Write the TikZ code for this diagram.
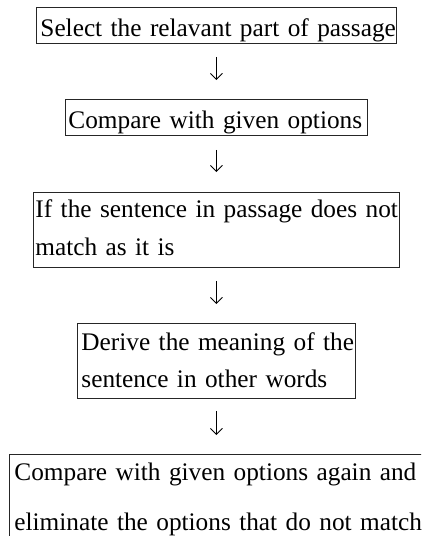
\documentclass[tikz,border=0pt]{standalone}
\usepackage{fontspec}
\setmainfont{Liberation Serif}[WordSpace=0.72]
\usetikzlibrary{arrows.meta}
\begin{document}
\begin{tikzpicture}[x=1pt,y=-1pt,
  box/.style={draw=black!85, line width=0.9pt, anchor=north west, inner ysep=0pt, align=left},
  flow/.style={-{Straight Barb[length=6pt,width=12pt,line width=0.9pt]}, line width=0.8pt, shorten <=13pt, shorten >=19pt}]
\useasboundingbox (0,0) rectangle (421,536);
\clip (0,0) rectangle (421,536);
\node[box, inner xsep=4pt, text width=352pt, text height=29.5pt, text depth=6.5pt,
      font=\fontsize{25.3}{37}\selectfont] (b1) at (36,7)
  {\mbox{Select the relavant part of passage}};
\node[box, inner xsep=3pt, text width=296pt, text height=29.5pt, text depth=6.5pt,
      font=\fontsize{25.3}{37}\selectfont] (b2) at (65,99)
  {\mbox{Compare with given options}};
\node[box, inner xsep=2pt, text width=362pt, text height=25.5pt, text depth=49.5pt,
      font=\fontsize{25.3}{38}\selectfont] (b3) at (33,192)
  {\mbox{If the sentence in passage does not}\\\mbox{match as it is}};
\node[box, inner xsep=4pt, text width=270pt, text height=27pt, text depth=48pt,
      font=\fontsize{25.3}{37}\selectfont] (b4) at (77,323)
  {\mbox{Derive the meaning of the}\\\mbox{sentence in other words}};
\node[box, inner xsep=5pt, text width=404pt, text height=26pt, text depth=65pt,
      font=\fontsize{25.3}{50.5}\selectfont] (b5) at (9,454)
  {\mbox{Compare with given options again and}\\\mbox{eliminate the options that do not match}};
\draw[flow] (b1.south) -- (b1.south |- b2.north);
\draw[flow, shorten <=14pt, shorten >=20pt] (b2.south) -- (b2.south |- b3.north);
\draw[flow] (b3.south) -- (b3.south |- b4.north);
\draw[flow, shorten <=12pt] (b4.south) -- (b4.south |- b5.north);
\end{tikzpicture}
\end{document}
